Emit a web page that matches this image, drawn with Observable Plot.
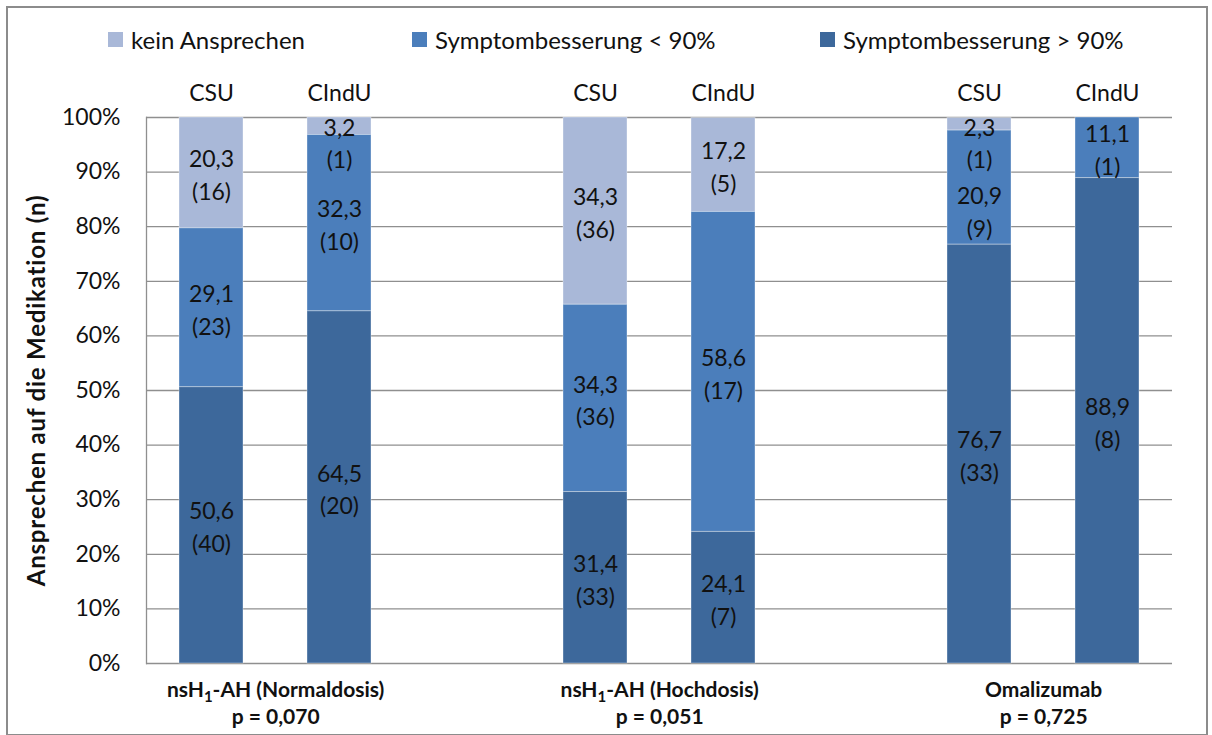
<!DOCTYPE html>
<html>
<head>
<meta charset="utf-8">
<script src="https://cdn.jsdelivr.net/npm/d3@7"></script>
<script src="https://cdn.jsdelivr.net/npm/@observablehq/plot@0.6"></script>
<style>
  body { margin: 0; background: #fff; font-family: Lato, "Open Sans", sans-serif; }
  #chart { position: relative; width: 1212px; height: 735px; overflow: hidden; background: #fff; }
  #border { position: absolute; left: 6px; top: 6px; width: 1198px; height: 726px; border: 2px solid #8c8c8c; pointer-events: none; }
  #legend { position: relative; height: 66px; }
  .item { position: absolute; top: 25px; display: flex; align-items: center; font-size: 24px; color: #111; white-space: nowrap; }
  .sw { width: 15px; height: 15px; margin-right: 8px; }
  svg text { fill: #111; }
</style>
</head>
<body>
<div id="chart">
  <div id="legend"></div>
  <div id="plot"></div>
  <div id="border"></div>
</div>
<script>
// Response to medication by urticaria type (CSU / CIndU) and treatment
const groups = ["nsH₁-AH (Normaldosis)", "nsH₁-AH (Hochdosis)", "Omalizumab"];
const pValues = ["p = 0,070", "p = 0,051", "p = 0,725"];
const categories = ["CSU", "CIndU"];
const series = ["kein Ansprechen", "Symptombesserung < 90%", "Symptombesserung > 90%"];
const seriesColors = ["#a9b8d8", "#4b7ebb", "#3d689b"];

// one entry per bar: Normal CSU, Normal CIndU, Hoch CSU, Hoch CIndU, Omalizumab CSU, Omalizumab CIndU
const keinPct    = [20.3,  3.2, 34.3, 17.2,  2.3,  0.0];
const keinN      = [16,    1,   36,    5,    1,    0];
const unter90Pct = [29.1, 32.3, 34.3, 58.6, 20.9, 11.1];
const unter90N   = [23,   10,   36,   17,    9,    1];
const ueber90Pct = [50.6, 64.5, 31.4, 24.1, 76.7, 88.9];
const ueber90N   = [40,   20,   33,    7,   33,    8];

const yTicks = [0, 10, 20, 30, 40, 50, 60, 70, 80, 90, 100];
const yTitle = "Ansprechen auf die Medikation (n)";

const W = 1212, H = 669, ML = 146, MR = 40, MT = 51, MB = 72;

// band domain: two bars per treatment, an empty slot between treatments
const keys = [];
const barKeys = [];
groups.forEach((g, gi) => {
  if (gi > 0) keys.push("gap" + gi);
  categories.forEach(c => { keys.push(gi + "|" + c); barKeys.push(gi + "|" + c); });
});
const step = (W - ML - MR) / keys.length;

const pctBySeries = [keinPct, unter90Pct, ueber90Pct];
const nBySeries = [keinN, unter90N, ueber90N];

const rows = [];
barKeys.forEach((k, b) => {
  series.forEach((s, si) => rows.push({key: k, series: s, pct: pctBySeries[si][b], n: nBySeries[si][b]}));
});

// value labels: centred in each segment, kept inside the plot and clear of the label above
const fmt = v => d3.format(".1f")(v).replace(".", ",");
const labels = [];
barKeys.forEach((k, b) => {
  const mids = [];
  let cum = 0;
  for (const si of [2, 1, 0]) { mids[si] = cum + pctBySeries[si][b] / 2; cum += pctBySeries[si][b]; }
  let limit = 95.6;
  for (const si of [0, 1, 2]) {
    const v = pctBySeries[si][b];
    if (!v) continue;
    const y = Math.min(mids[si], limit);
    limit = y - 12.6;
    labels.push({key: k, y, text: fmt(v) + "\n(" + nBySeries[si][b] + ")"});
  }
});

const groupRows = groups.map((g, gi) => ({key: gi + "|" + categories[0], text: g + "\n" + pValues[gi]}));

const plot = Plot.plot({
  width: W, height: H,
  marginLeft: ML, marginRight: MR, marginTop: MT, marginBottom: MB,
  style: {fontFamily: "Lato, 'Open Sans', sans-serif", fontSize: "23px", color: "#111", background: "transparent", overflow: "visible"},
  x: {type: "band", domain: keys, paddingInner: 0.5, paddingOuter: 0.25, axis: null},
  y: {domain: [0, 100]},
  color: {domain: series, range: seriesColors},
  marks: [
    Plot.ruleY(yTicks, {stroke: "#8f8f8f", strokeWidth: 1.3}),
    Plot.frame({anchor: "left", stroke: "#8f8f8f", strokeWidth: 1.3}),
    Plot.barY(rows, Plot.stackY({
      x: "key", y: "pct", z: "series", fill: "series",
      order: [series[2], series[1], series[0]],
      stroke: "#ffffff", strokeOpacity: 0.35, strokeWidth: 1
    })),
    Plot.text(labels, {x: "key", y: "y", text: "text", fontSize: 23, lineHeight: 1.43, fill: "#111"}),
    Plot.axisY(yTicks, {tickSize: 0, tickPadding: 26, tickFormat: d => d + "%", fontSize: 23, label: null, fill: "#111"}),
    Plot.text([yTitle], {frameAnchor: "left", textAnchor: "middle", lineAnchor: "middle", rotate: -90,
      dx: -109, fontSize: 24, fontWeight: "bold", fill: "#111"}),
    Plot.text(barKeys, {x: d => d, text: d => d.split("|")[1], frameAnchor: "top", lineAnchor: "middle",
      dy: -24, fontSize: 23, fill: "#111"}),
    Plot.text(groupRows, {x: "key", text: "text", frameAnchor: "bottom", lineAnchor: "middle", dx: step / 2, dy: 38.5,
      lineHeight: 1.29, fontSize: 21, fontWeight: "bold", fill: "#111"})
  ]
});

// y title: slightly tracked out
plot.querySelectorAll("text").forEach(node => {
  if (node.textContent === yTitle) node.setAttribute("letter-spacing", "0.8");
});

// subscript for the "1" in nsH₁-AH
plot.querySelectorAll("tspan, text").forEach(node => {
  if (node.children.length || !node.textContent.includes("₁")) return;
  const [before, after] = node.textContent.split("₁");
  const ns = "http://www.w3.org/2000/svg";
  node.textContent = before;
  const sub = document.createElementNS(ns, "tspan");
  sub.setAttribute("dy", "5");
  sub.setAttribute("font-size", "15");
  sub.textContent = "1";
  const rest = document.createElementNS(ns, "tspan");
  rest.setAttribute("dy", "-5");
  rest.textContent = after;
  node.appendChild(sub);
  node.appendChild(rest);
});

document.getElementById("plot").appendChild(plot);

// legend
const legendLeft = [108, 412, 820];
const legend = d3.select("#legend");
series.forEach((s, i) => {
  const item = legend.append("div").attr("class", "item").style("left", legendLeft[i] + "px");
  item.append("div").attr("class", "sw").style("background", seriesColors[i]);
  item.append("span").text(s);
});
</script>
</body>
</html>
